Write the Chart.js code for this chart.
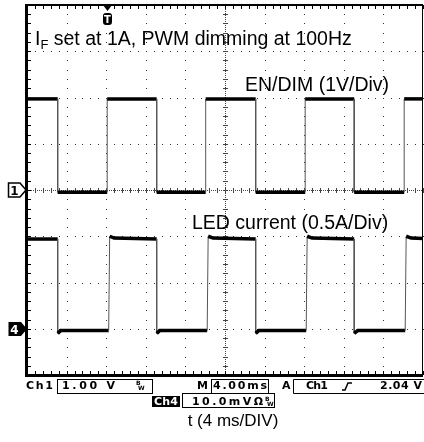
<!DOCTYPE html>
<html>
<head>
<meta charset="utf-8">
<script src="https://cdn.jsdelivr.net/npm/chart.js@4.4.0/dist/chart.umd.min.js"></script>
<style>
  html, body { margin: 0; padding: 0; background: #fff; }
  #scope { display: block; }
</style>
</head>
<body>
<canvas id="scope" width="424" height="442"></canvas>
<script>
// scope screen: 10 x 8 divisions, 4 ms/div
const ch1TimeMs = [0, 3.1, 3.1, 8.1, 8.1, 13.1, 13.1, 18.05, 18.05, 23.1, 23.1, 28.1, 28.1, 33.05, 33.05, 38.1, 38.1, 40];
const ch1Volts  = [1.97, 1.97, -0.05, -0.05, 1.97, 1.97, -0.05, -0.05, 1.97, 1.97, -0.05, -0.05, 1.97, 1.97, -0.05, -0.05, 1.97, 1.97];

const ledTimeMs = [0, 3.1, 3.1, 3.4, 8.25, 8.35, 8.8, 13.1, 13.1, 13.4, 18.2, 18.3, 18.8, 23.1, 23.1, 23.4, 28.2, 28.3, 28.8, 33.05, 33.05, 33.4, 38.2, 38.3, 38.8, 40];
const ledAmps   = [0.97, 0.97, -0.05, -0.02, -0.02, 1.0, 0.98, 0.97, -0.05, -0.02, -0.02, 1.0, 0.98, 0.97, -0.05, -0.02, -0.02, 1.0, 0.98, 0.97, -0.05, -0.02, -0.02, 1.0, 0.98, 0.975];

const triggerMs = 8.1;
const ch1VoltsPerDiv = 1, ch1ZeroDiv = 0;
const ledAmpsPerDiv = 0.5, ledZeroDiv = -3;

function toPoints(times, values, perDiv, zero) {
  return times.map((t, i) => ({ x: t, y: values[i] / perDiv + zero }));
}

// thin grey edges, thick black flat parts
const isEdge = (c) => Math.abs(c.p1.y - c.p0.y) > 3 * Math.abs(c.p1.x - c.p0.x);
const traceSegment = {
  borderWidth: (c) => (isEdge(c) ? 1 : 3.5),
  borderColor: (c) => (isEdge(c) ? '#555' : '#000'),
};

const graticule = {
  id: 'graticule',
  beforeDatasetsDraw(chart) {
    const { ctx, chartArea: a, scales: { x, y } } = chart;
    const px = (t) => Math.round(x.getPixelForValue(t));
    const py = (v) => Math.round(y.getPixelForValue(v));
    ctx.save();
    ctx.fillStyle = '#333';
    for (let d = 1; d < 10; d++) {
      if (d === 5) continue;
      for (let k = 0; k <= 40; k++) ctx.fillRect(px(d * 4), py(-4 + k * 0.2), 1, 1);
    }
    for (let d = -3; d <= 3; d++) {
      if (d === 0) continue;
      for (let k = 0; k <= 50; k++) ctx.fillRect(px(k * 0.8), py(d), 1, 1);
    }
    // centre cross with minor ticks
    const cx = px(20), cy = py(0);
    ctx.fillStyle = '#444';
    for (let p = a.top; p < a.bottom; p += 2) ctx.fillRect(cx, p, 1, 1);
    for (let p = a.left; p < a.right; p += 2) ctx.fillRect(p, cy, 1, 1);
    for (let k = 0; k <= 40; k++) ctx.fillRect(cx - 2, py(-4 + k * 0.2), 5, 1);
    for (let k = 0; k <= 50; k++) ctx.fillRect(px(k * 0.8), cy - 2, 1, 5);
    // frame
    ctx.fillStyle = '#000';
    ctx.fillRect(a.left - 2, a.top - 1, a.width + 2, 2);
    ctx.fillRect(a.left - 2, a.top - 1, 3, a.height + 3);
    ctx.fillRect(a.left - 2, a.bottom - 1, a.width + 2, 3);
    ctx.fillRect(a.right - 1, a.top, 1, a.height);
    for (let k = 0; k <= 50; k++) {
      ctx.fillRect(px(k * 0.8), a.top, 1, 4);
      ctx.fillRect(px(k * 0.8), a.bottom - 4, 1, 4);
    }
    for (let k = 0; k <= 40; k++) ctx.fillRect(a.left, py(-4 + k * 0.2), 4, 1);
    ctx.restore();
  },
};

function spacedText(ctx, text, x, y, width) {
  const chars = [...text];
  const w = chars.reduce((s, c) => s + ctx.measureText(c).width, 0);
  const gap = chars.length > 1 ? (width - w) / (chars.length - 1) : 0;
  let cx = x;
  for (const c of chars) {
    ctx.fillText(c, cx, y);
    cx += ctx.measureText(c).width + gap;
  }
}

function marker(ctx, label, tipX, midY, filled) {
  ctx.beginPath();
  ctx.moveTo(8.5, midY - 7);
  ctx.lineTo(tipX - 6, midY - 7);
  ctx.lineTo(tipX, midY);
  ctx.lineTo(tipX - 6, midY + 7);
  ctx.lineTo(8.5, midY + 7);
  ctx.closePath();
  if (filled) { ctx.fillStyle = '#000'; ctx.fill(); }
  else { ctx.strokeStyle = '#000'; ctx.lineWidth = 1.5; ctx.stroke(); }
  ctx.fillStyle = filled ? '#fff' : '#000';
  ctx.font = 'bold 12px "DejaVu Sans"';
  ctx.textAlign = 'center';
  ctx.fillText(label, 14.5, midY + 4.5);
  ctx.textAlign = 'left';
}

const annotations = {
  id: 'annotations',
  afterDraw(chart) {
    const { ctx, scales: { x, y } } = chart;
    ctx.save();
    ctx.fillStyle = '#000';
    ctx.textBaseline = 'alphabetic';

    // labels inside the screen
    const big = '19.5px "Liberation Sans", Arial, sans-serif';
    ctx.font = big;
    ctx.fillText('I', 35, 45);
    let tx = 35 + ctx.measureText('I').width;
    ctx.font = '13px "Liberation Sans", Arial, sans-serif';
    ctx.fillText('F', tx, 49);
    tx += ctx.measureText('F').width;
    ctx.font = big;
    ctx.fillText(' set at 1A, PWM dimming at 100Hz', tx, 45);
    ctx.fillText('EN/DIM (1V/Div)', 245, 91);
    ctx.fillText('LED current (0.5A/Div)', 192, 229);

    // channel ground markers
    marker(ctx, '1', 26, Math.round(y.getPixelForValue(ch1ZeroDiv)), false);
    marker(ctx, '4', 27, Math.round(y.getPixelForValue(ledZeroDiv)), true);

    // trigger marker
    const tp = Math.round(x.getPixelForValue(triggerMs));
    ctx.fillStyle = '#000';
    ctx.beginPath();
    ctx.moveTo(tp - 4, 5); ctx.lineTo(tp + 5, 5); ctx.lineTo(tp + 0.5, 11); ctx.closePath();
    ctx.fill();
    ctx.beginPath();
    ctx.roundRect(tp - 4, 13, 9, 12, 3);
    ctx.fill();
    ctx.fillStyle = '#fff';
    ctx.font = 'bold 10px "DejaVu Sans"';
    ctx.textAlign = 'center';
    ctx.fillText('T', tp + 0.5, 23);
    ctx.textAlign = 'left';

    // status bar
    ctx.fillStyle = '#000';
    ctx.strokeStyle = '#000';
    ctx.lineWidth = 1;
    ctx.font = 'bold 11px "DejaVu Sans"';
    spacedText(ctx, 'Ch1', 26, 389, 27);
    ctx.strokeRect(57.5, 379.5, 95, 14);
    spacedText(ctx, '1.00 V', 62, 389, 53);
    spacedText(ctx, 'M', 197, 389, 10);
    ctx.strokeRect(211.5, 379.5, 57, 14);
    spacedText(ctx, '4.00ms', 213, 389, 54);
    spacedText(ctx, 'A', 282, 389, 8);
    ctx.beginPath();
    ctx.moveTo(424, 379.5); ctx.lineTo(293.5, 379.5); ctx.lineTo(293.5, 393.5); ctx.lineTo(424, 393.5);
    ctx.stroke();
    spacedText(ctx, 'Ch1', 306, 389, 22);
    ctx.lineWidth = 1.5;
    ctx.beginPath();
    ctx.moveTo(342, 390); ctx.lineTo(345, 390); ctx.lineTo(348, 383); ctx.lineTo(352, 383);
    ctx.stroke();
    ctx.lineWidth = 1;
    spacedText(ctx, '2.04 V', 380, 389, 42);

    ctx.fillRect(152, 396, 28, 11);
    ctx.fillStyle = '#fff';
    spacedText(ctx, 'Ch4', 154, 405, 24);
    ctx.fillStyle = '#000';
    ctx.strokeRect(182.5, 393.5, 92, 14);
    spacedText(ctx, '10.0mVΩ', 192, 405, 71);

    ctx.font = 'bold 6px "DejaVu Sans"';
    ctx.fillText('B', 136, 385); ctx.fillText('W', 138, 390);
    ctx.fillText('B', 265, 401); ctx.fillText('W', 267, 406);

    // time base caption
    ctx.font = '17px "Liberation Sans", Arial, sans-serif';
    ctx.textAlign = 'center';
    ctx.fillText('t (4 ms/DIV)', 233, 426);
    ctx.restore();
  },
};

new Chart(document.getElementById('scope'), {
  type: 'line',
  data: {
    datasets: [
      {
        label: 'EN/DIM',
        data: toPoints(ch1TimeMs, ch1Volts, ch1VoltsPerDiv, ch1ZeroDiv),
        segment: traceSegment,
        borderColor: '#000',
        pointRadius: 0,
        tension: 0,
      },
      {
        label: 'LED current',
        data: toPoints(ledTimeMs, ledAmps, ledAmpsPerDiv, ledZeroDiv),
        segment: traceSegment,
        borderColor: '#000',
        pointRadius: 0,
        tension: 0,
      },
    ],
  },
  options: {
    responsive: false,
    animation: false,
    devicePixelRatio: 1,
    layout: { padding: { left: 27, top: 5, right: 1, bottom: 67 } },
    plugins: { legend: { display: false }, tooltip: { enabled: false } },
    scales: {
      x: { type: 'linear', min: 0, max: 40, display: false },
      y: { type: 'linear', min: -4, max: 4, display: false },
    },
  },
  plugins: [graticule, annotations],
});
</script>
</body>
</html>
